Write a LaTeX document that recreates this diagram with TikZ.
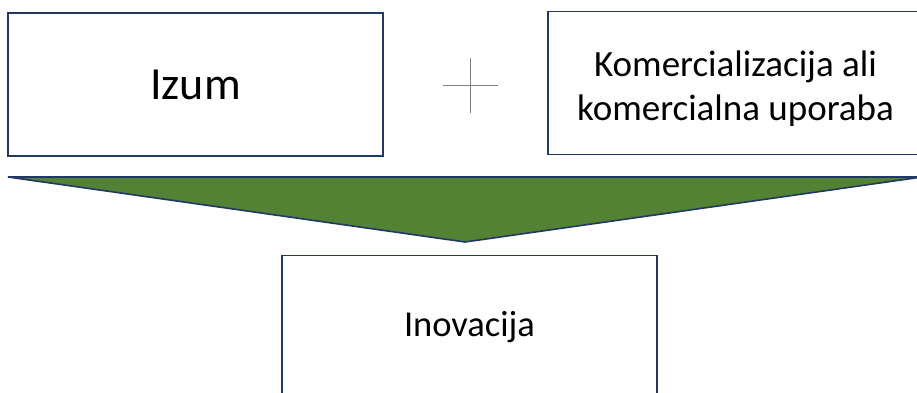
\documentclass[tikz,border=0pt]{standalone}
\usepackage{fontspec}
\setmainfont{Carlito}
\usetikzlibrary{positioning}
\definecolor{navy}{HTML}{203864}
\definecolor{leafgreen}{HTML}{548235}

\begin{document}
\begin{tikzpicture}[x=1pt, y=1pt,
        stagebox/.style={draw=navy, line width=1.6pt, fill=white, minimum width=375, minimum height=143, inner sep=0, align=center}]
                \useasboundingbox (0,0) rectangle (917,392);

                \node[stagebox, font=\fontsize{46}{54}\selectfont](izum) at (195.5,307.5) {Izum};
                \node[stagebox](komerc) at (735.5,309) {};
                \node[font=\fontsize{37}{44}\selectfont, align=center, inner sep=0](komercText) at ([yshift=-6]komerc.center) {Komercializacija ali\\komercialna uporaba};
                \node[stagebox, font=\fontsize{36.5}{40}\selectfont](inov) at (469.5,65) {Inovacija};

                \coordinate (plus) at (470,307);
                \draw[gray, line width=0.8pt] ([xshift=-27.5]plus) -- ([xshift=27.5]plus);
                \draw[gray, line width=0.8pt] ([yshift=-27.5]plus) -- ([yshift=27.5]plus);

                % merging arrow
                \coordinate (tipL) at (8,215);
                \coordinate (tipR) at (922,215);
                \coordinate (tipB) at (465,150);
                \draw[navy, line width=1.6pt, fill=leafgreen, line join=miter] (tipL) -- (tipR) -- (tipB) -- cycle;

        \end{tikzpicture}
\end{document}
